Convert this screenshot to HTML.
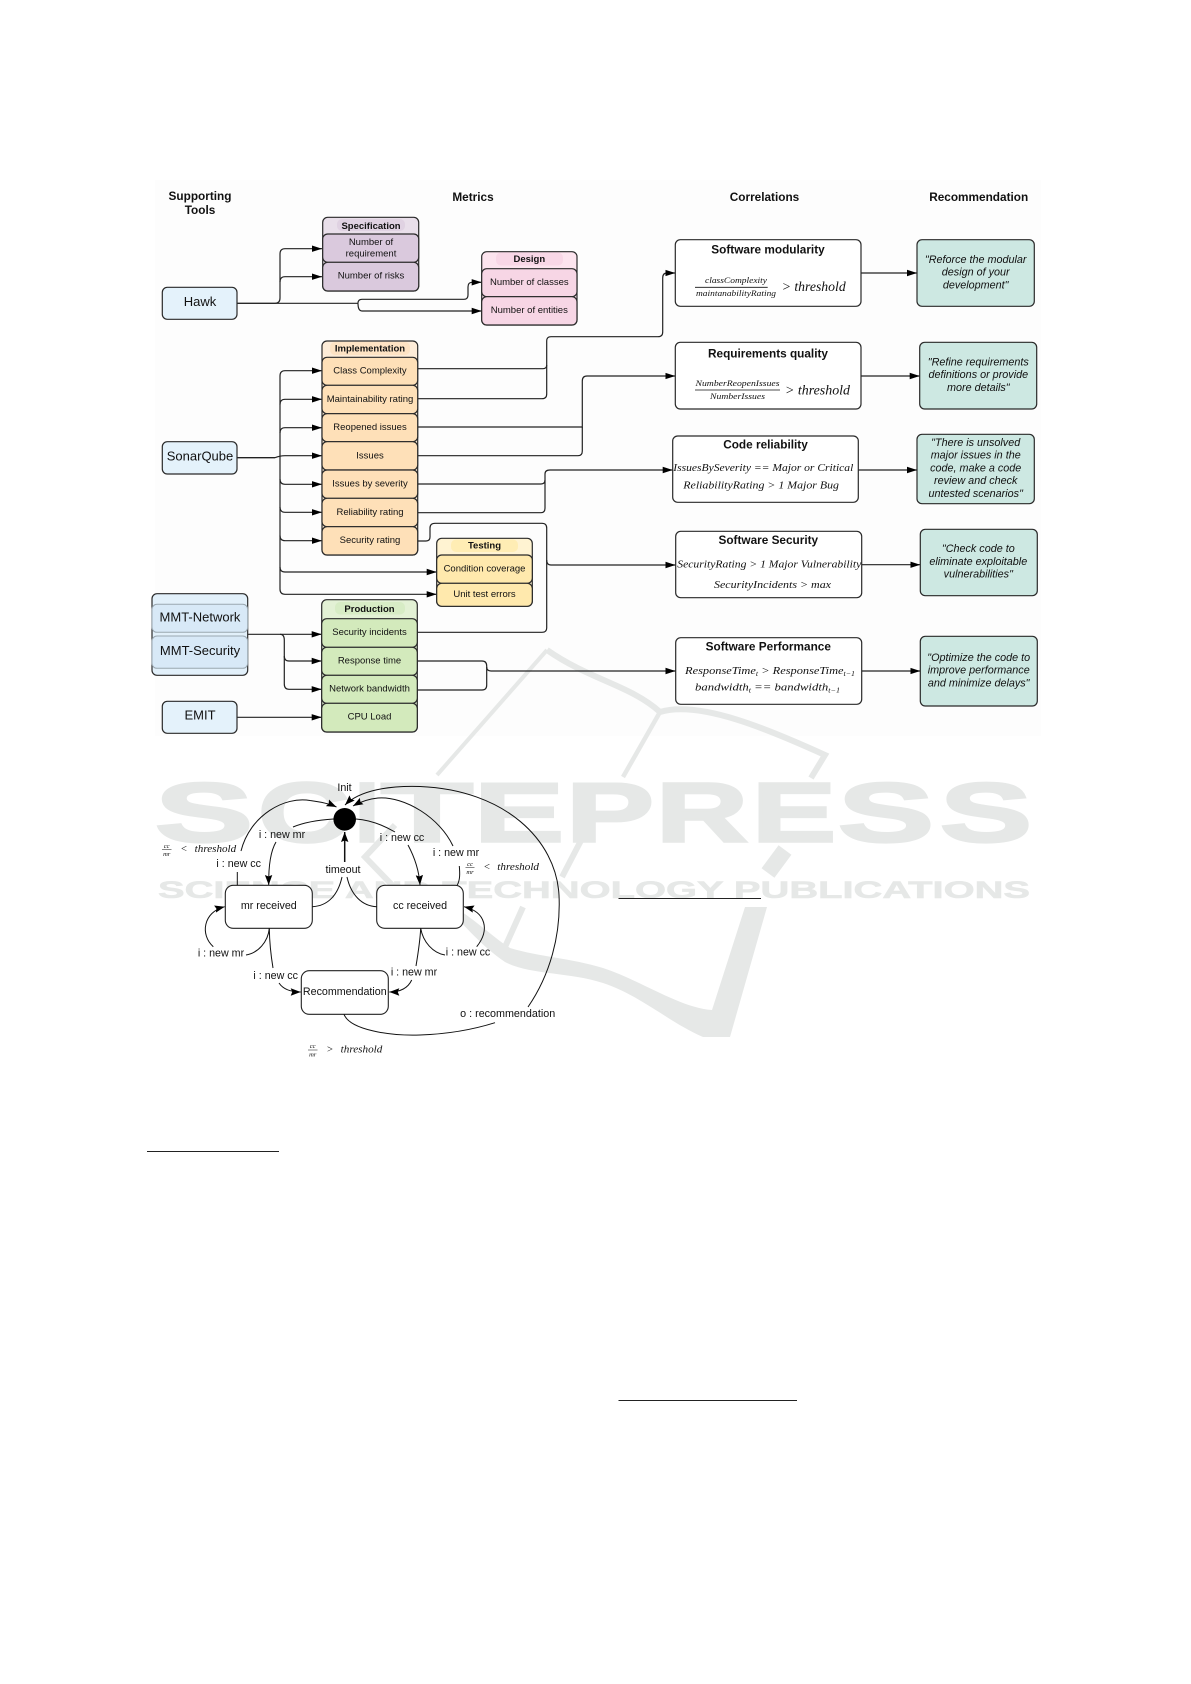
<!DOCTYPE html>
<html><head><meta charset="utf-8"><style>
html,body{margin:0;padding:0;background:#fff}
svg{display:block}
text{font-family:"Liberation Sans",sans-serif;fill:#111}
.b{font-weight:bold}
.m{text-anchor:middle}
.r{font-size:9.5px;text-anchor:middle}
.h{font-size:9.5px;font-weight:bold;text-anchor:middle}
.t{font-size:13px;text-anchor:middle}
.c{font-size:11.8px;font-weight:bold;text-anchor:middle}
.q{font-size:10.8px;font-style:italic;text-anchor:middle}
.s{font-size:10.7px;text-anchor:middle}
text.x{font-family:"Liberation Serif",serif;font-style:italic}
text.n{font-family:"Liberation Serif",serif}
.box{stroke:#2a2a2a;stroke-width:1.2}
.l{fill:none;stroke:#222;stroke-width:1.2}
.k{fill:none;stroke:#111;stroke-width:1}
text.w{fill:#e6e8e7;stroke:#e6e8e7;stroke-width:2.5;font-weight:bold}
text.w2{fill:#e6e8e7;stroke:#e6e8e7;stroke-width:.6;font-weight:bold}
.ws{fill:none;stroke:#e6e8e7}
</style></head><body>
<svg width="1191" height="1684" viewBox="0 0 1191 1684" xmlns="http://www.w3.org/2000/svg">
<defs>
<marker id="a" markerUnits="userSpaceOnUse" markerWidth="11" markerHeight="8" refX="10" refY="3.5" orient="auto"><path d="M0 .3L10 3.5L0 6.7Z" fill="#000"/></marker>
<marker id="b" markerUnits="userSpaceOnUse" markerWidth="11" markerHeight="9" refX="10" refY="4" orient="auto"><path d="M0 .3L10 4L0 7.7L1.5 4Z" fill="#000"/></marker>
</defs>
<rect x="155" y="180" width="886" height="556" fill="#fdfdfd"/>

<!-- watermark -->
<g>
<path class="ws" stroke-width="4" d="M437 775L547 650"/>
<path class="ws" stroke-width="6" d="M547 650C590 680 630 685 660 712C700 700 770 730 825 755L811 778"/>
<path class="ws" stroke-width="4.5" d="M660 712L623 777"/>
<path class="ws" stroke-width="16" d="M785 850L768 873"/>
<path class="ws" stroke-width="6" d="M588 827L562 877M523 907L505 947M395 825L365 857L395 888"/>
<path fill="#e6e8e7" d="M453 907C470 915 490 935 510 948C540 957 570 958 603 968C640 980 680 1008 712 1010L745 907L767 907L730 1037L703 1037C670 1023 640 995 603 983C570 972 530 975 505 962C480 945 465 925 450 912Z"/>
<g font-size="84">
<text class="w" x="155" y="841.5" textLength="98" lengthAdjust="spacingAndGlyphs">S</text>
<text class="w" x="258" y="841.5" textLength="92" lengthAdjust="spacingAndGlyphs">C</text>
<text class="w" x="355" y="841.5" textLength="24" lengthAdjust="spacingAndGlyphs">I</text>
<text class="w" x="381" y="841.5" textLength="92" lengthAdjust="spacingAndGlyphs">T</text>
<text class="w" x="474" y="841.5" textLength="90" lengthAdjust="spacingAndGlyphs">E</text>
<text class="w" x="566" y="841.5" textLength="88" lengthAdjust="spacingAndGlyphs">P</text>
<text class="w" x="656" y="841.5" textLength="92" lengthAdjust="spacingAndGlyphs">R</text>
<text class="w" x="752" y="841.5" textLength="84" lengthAdjust="spacingAndGlyphs">E</text>
<text class="w" x="838" y="841.5" textLength="96" lengthAdjust="spacingAndGlyphs">S</text>
<text class="w" x="940" y="841.5" textLength="92" lengthAdjust="spacingAndGlyphs">S</text>
</g>
<text class="w2" x="158" y="898" font-size="24.5" textLength="872" lengthAdjust="spacingAndGlyphs">SCIENCE AND TECHNOLOGY PUBLICATIONS</text>
</g>

<!-- headers -->
<text class="c m" x="200" y="200">Supporting</text>
<text class="c m" x="200" y="214">Tools</text>
<text class="c m" x="473" y="201">Metrics</text>
<text class="c m" x="764.5" y="201">Correlations</text>
<text class="c m" x="978.7" y="201">Recommendation</text>

<!-- connectors -->
<g class="l">
<path marker-end="url(#a)" d="M237 303.3H275Q280 303.3 280 298V254Q280 248.7 285 248.7H322"/>
<path marker-end="url(#a)" d="M280 282Q280 276.7 285 276.7H322"/>
<path d="M237 303.3H358"/>
<path marker-end="url(#a)" d="M358 303.3Q358 299.3 362 299.3H464Q468 299.3 468 295V287Q468 282.3 472 282.3H481.7"/>
<path marker-end="url(#a)" d="M358 303.3Q358 311 362 311H481.7"/>

<path stroke-width="1.4" d="M237 457.7H275"/>
<path d="M280 376Q280 370.7 285 370.7H322" marker-end="url(#a)"/>
<path d="M280 376V589Q280 594.3 285 594.3H436.7" marker-end="url(#a)"/>
<path d="M280 404.5Q280 399.3 285 399.3H322" marker-end="url(#a)"/>
<path d="M280 433Q280 427.7 285 427.7H322" marker-end="url(#a)"/>
<path d="M275 457.7Q280 455.7 285 455.7H322" marker-end="url(#a)"/>
<path d="M280 479Q280 484.3 285 484.3H322" marker-end="url(#a)"/>
<path d="M280 507Q280 512.3 285 512.3H322" marker-end="url(#a)"/>
<path d="M280 535.5Q280 540.7 285 540.7H322" marker-end="url(#a)"/>
<path d="M280 567Q280 572 285 572H436.7" marker-end="url(#a)"/>

<path d="M417.7 368.7H543Q546.7 368.7 546.7 365V341Q546.7 336.7 551 336.7H658Q662.7 336.7 662.7 332V278Q662.7 273 667 273H675.3" marker-end="url(#a)"/>
<path d="M417.7 398.7H542Q546.7 398.7 546.7 394V365"/>
<path d="M417.7 427H582.3V381Q582.3 376 587 376H675.3" marker-end="url(#a)"/>
<path d="M417.7 455.7H578Q582.3 455.7 582.3 451V427"/>
<path d="M417.7 484H541Q545 484 545 480V474Q545 470 550 470H672.7" marker-end="url(#a)"/>
<path d="M417.7 512.7H541Q545 512.7 545 508V480"/>
<path d="M417.7 541H426Q430 541 430 537V528Q430 523.3 435 523.3H542Q546.7 523.3 546.7 528V628Q546.7 632.3 542 632.3H417.3"/>
<path d="M546.7 560Q546.7 565 551 565H675.5" marker-end="url(#a)"/>

<path d="M247.7 634.3H321.7" marker-end="url(#a)"/>
<path d="M280 634.3Q284.3 634.3 284.3 640V656Q284.3 661 289 661H321.7" marker-end="url(#a)"/>
<path d="M284.3 656V684Q284.3 689.3 289 689.3H321.7" marker-end="url(#a)"/>
<path d="M237 717.3H321.7" marker-end="url(#a)"/>
<path d="M417.3 661H482Q486.7 661 486.7 666V685Q486.7 690 482 690H417.3"/>
<path d="M486.7 667Q486.7 671 491 671H675.5" marker-end="url(#a)"/>

<path d="M861 273H917" marker-end="url(#a)"/>
<path d="M861 376H919.7" marker-end="url(#a)"/>
<path d="M858.3 470H917" marker-end="url(#a)"/>
<path d="M861.7 564.7H920.3" marker-end="url(#a)"/>
<path d="M861.7 671H920.3" marker-end="url(#a)"/>
</g>

<!-- tools -->
<g class="box" fill="#e4f2fb">
<rect x="162.3" y="287.3" width="74.7" height="32" rx="5"/>
<rect x="162.3" y="441.7" width="74.7" height="32.3" rx="5"/>
<rect x="162.3" y="701.3" width="74.7" height="32" rx="5"/>
<rect x="152" y="593.7" width="95.7" height="81.6" rx="5" fill="#e2f0fa"/>
</g>
<rect x="152" y="604.3" width="95.7" height="28" rx="5" fill="#d8e9f7" stroke="#9aa7b0"/>
<rect x="152" y="636" width="95.7" height="32.3" rx="5" fill="#d8e9f7" stroke="#9aa7b0"/>
<text class="t" x="200" y="306">Hawk</text>
<text class="t" x="200" y="460.5">SonarQube</text>
<text class="t" x="200" y="719.5">EMIT</text>
<text class="t" x="200" y="621.5">MMT-Network</text>
<text class="t" x="200" y="655">MMT-Security</text>

<!-- Specification -->
<rect class="box" x="322.7" y="217.3" width="96" height="73.7" rx="5" fill="#e9dfea"/>
<rect x="337" y="219" width="68" height="12" rx="5" fill="#e0d2e2"/>
<g class="box" fill="#dac9dd"><rect x="322.7" y="234" width="96" height="28.3" rx="5"/><rect x="322.7" y="262.3" width="96" height="28.7" rx="5"/></g>
<text class="h" x="371" y="229">Specification</text>
<text class="r" x="371" y="245">Number of</text>
<text class="r" x="371" y="256.5">requirement</text>
<text class="r" x="371" y="278.5">Number of risks</text>

<!-- Design -->
<rect class="box" x="481.7" y="251.7" width="95.3" height="73.3" rx="5" fill="#fce4ee"/>
<rect x="496" y="252.5" width="67" height="13" rx="5" fill="#f8d7e6"/>
<g class="box" fill="#f7d6e5"><rect x="481.7" y="268.7" width="95.3" height="28" rx="5"/><rect x="481.7" y="296.7" width="95.3" height="28.3" rx="5"/></g>
<text class="h" x="529.3" y="262">Design</text>
<text class="r" x="529.3" y="285">Number of classes</text>
<text class="r" x="529.3" y="313">Number of entities</text>

<!-- Implementation -->
<rect class="box" x="322" y="341" width="95.7" height="214" rx="5" fill="#fdecd8"/>
<rect x="330" y="342" width="80" height="13" rx="5" fill="#fde3c4"/>
<g class="box" fill="#fee0b8">
<rect x="322" y="357.3" width="95.7" height="28" rx="5"/>
<rect x="322" y="385.3" width="95.7" height="28.4" rx="5"/>
<rect x="322" y="413.7" width="95.7" height="28" rx="5"/>
<rect x="322" y="441.7" width="95.7" height="28.3" rx="5"/>
<rect x="322" y="470" width="95.7" height="28.3" rx="5"/>
<rect x="322" y="498.3" width="95.7" height="28.4" rx="5"/>
<rect x="322" y="526.7" width="95.7" height="28.3" rx="5"/>
</g>
<text class="h" x="370" y="351.5">Implementation</text>
<text class="r" x="370" y="373.5">Class Complexity</text>
<text class="r" x="370" y="402">Maintainability rating</text>
<text class="r" x="370" y="430">Reopened issues</text>
<text class="r" x="370" y="458.5">Issues</text>
<text class="r" x="370" y="486.5">Issues by severity</text>
<text class="r" x="370" y="515">Reliability rating</text>
<text class="r" x="370" y="543">Security rating</text>

<!-- Testing -->
<rect class="box" x="436.7" y="538.3" width="95.6" height="68" rx="5" fill="#fff3d2"/>
<rect x="451" y="539.5" width="67" height="12.5" rx="5" fill="#ffedb4"/>
<g class="box" fill="#ffe9ad"><rect x="436.7" y="555" width="95.6" height="28.3" rx="5"/><rect x="436.7" y="583.3" width="95.6" height="23" rx="5"/></g>
<text class="h" x="484.5" y="548.5">Testing</text>
<text class="r" x="484.5" y="571.5">Condition coverage</text>
<text class="r" x="484.5" y="597">Unit test errors</text>

<!-- Production -->
<rect class="box" x="321.7" y="599.7" width="95.6" height="132.3" rx="5" fill="#e3f1d5"/>
<rect x="335" y="602" width="70" height="12.5" rx="5" fill="#d7ecc5"/>
<g class="box" fill="#d3eabc">
<rect x="321.7" y="618.7" width="95.6" height="28.6" rx="5"/>
<rect x="321.7" y="647.3" width="95.6" height="28" rx="5"/>
<rect x="321.7" y="675.3" width="95.6" height="28" rx="5"/>
<rect x="321.7" y="703.3" width="95.6" height="28.7" rx="5"/>
</g>
<text class="h" x="369.5" y="612">Production</text>
<text class="r" x="369.5" y="635">Security incidents</text>
<text class="r" x="369.5" y="663.5">Response time</text>
<text class="r" x="369.5" y="691.5">Network bandwidth</text>
<text class="r" x="369.5" y="719.5">CPU Load</text>

<!-- correlations -->
<g class="box" fill="#fff">
<rect x="675.3" y="239.7" width="185.7" height="66.6" rx="5"/>
<rect x="675.3" y="342.3" width="185.7" height="66.7" rx="5"/>
<rect x="672.7" y="436" width="185.6" height="66.3" rx="5"/>
<rect x="675.7" y="531.3" width="186" height="66.4" rx="5"/>
<rect x="675.7" y="637.7" width="186" height="66.6" rx="5"/>
</g>
<text class="c" x="768" y="253.5">Software modularity</text>
<text class="x m" x="736" y="283" font-size="8.5" textLength="62" lengthAdjust="spacingAndGlyphs">classComplexity</text>
<line x1="695" y1="287.3" x2="767.7" y2="287.3" stroke="#111" stroke-width=".8"/>
<text class="x m" x="736" y="296" font-size="8.5" textLength="80" lengthAdjust="spacingAndGlyphs">maintanabilityRating</text>
<text class="x" x="781.7" y="291" font-size="14" textLength="64" lengthAdjust="spacingAndGlyphs">&gt; threshold</text>

<text class="c" x="768" y="357.5">Requirements quality</text>
<text class="x m" x="737.5" y="386" font-size="8.5" textLength="84" lengthAdjust="spacingAndGlyphs">NumberReopenIssues</text>
<line x1="695" y1="390" x2="780" y2="390" stroke="#111" stroke-width=".8"/>
<text class="x m" x="737.5" y="399" font-size="8.5" textLength="55" lengthAdjust="spacingAndGlyphs">NumberIssues</text>
<text class="x" x="785" y="394.5" font-size="14" textLength="65" lengthAdjust="spacingAndGlyphs">&gt; threshold</text>

<text class="c" x="765.5" y="448.5">Code reliability</text>
<text class="x" x="673.3" y="471" font-size="11" textLength="180" lengthAdjust="spacingAndGlyphs">IssuesBySeverity == Major or Critical</text>
<text class="x" x="683.3" y="488.5" font-size="11" textLength="155.7" lengthAdjust="spacingAndGlyphs">ReliabilityRating &gt; 1 Major Bug</text>

<text class="c" x="768.3" y="544">Software Security</text>
<text class="x" x="677.3" y="567.5" font-size="11" textLength="184" lengthAdjust="spacingAndGlyphs">SecurityRating  &gt; 1 Major Vulnerability</text>
<text class="x" x="714" y="588" font-size="11" textLength="117" lengthAdjust="spacingAndGlyphs">SecurityIncidents &gt; max</text>

<text class="c" x="768.3" y="650.5">Software Performance</text>
<text class="x" x="685" y="674" font-size="11" textLength="170" lengthAdjust="spacingAndGlyphs">ResponseTime<tspan font-size="7" dy="2">t</tspan><tspan dy="-2"> &gt; ResponseTime</tspan><tspan font-size="7" dy="2">t−1</tspan></text>
<text class="x" x="695" y="690.5" font-size="11" textLength="145" lengthAdjust="spacingAndGlyphs">bandwidth<tspan font-size="7" dy="2">t</tspan><tspan dy="-2">  ==  bandwidth</tspan><tspan font-size="7" dy="2">t−1</tspan></text>

<!-- recommendations -->
<g class="box" fill="#cde8e2">
<rect x="917" y="239.7" width="117.3" height="66.6" rx="5"/>
<rect x="919.7" y="342.3" width="117" height="66.7" rx="5"/>
<rect x="917" y="434.3" width="117.3" height="69.4" rx="5"/>
<rect x="920.3" y="529.3" width="117" height="66.4" rx="5"/>
<rect x="920.3" y="636.3" width="117" height="69.7" rx="5"/>
</g>
<text class="q" x="975.7" y="263">"Reforce the modular</text>
<text class="q" x="975.7" y="275.7">design of your</text>
<text class="q" x="975.7" y="288.3">development"</text>
<text class="q" x="978.3" y="365.3">"Refine requirements</text>
<text class="q" x="978.3" y="378">definitions or provide</text>
<text class="q" x="978.3" y="391">more details"</text>
<text class="q" x="975.7" y="446">"There is unsolved</text>
<text class="q" x="975.7" y="458.7">major issues in the</text>
<text class="q" x="975.7" y="471.4">code, make a code</text>
<text class="q" x="975.7" y="484">review and check</text>
<text class="q" x="975.7" y="497">untested scenarios"</text>
<text class="q" x="978.3" y="552">"Check code to</text>
<text class="q" x="978.3" y="565">eliminate exploitable</text>
<text class="q" x="978.3" y="577.7">vulnerabilities"</text>
<text class="q" x="978.7" y="661">"Optimize the code to</text>
<text class="q" x="978.7" y="673.7">improve performance</text>
<text class="q" x="978.7" y="686.3">and minimize delays"</text>

<!-- state diagram -->
<circle cx="344.7" cy="819.3" r="11.3" fill="#000"/>
<g fill="#fff" stroke="#222" stroke-width="1.1">
<rect x="225.3" y="885.3" width="87" height="43" rx="8"/>
<rect x="376.7" y="885.3" width="86.6" height="43" rx="8"/>
<rect x="301.3" y="970.7" width="87" height="43.6" rx="8"/>
</g>
<g class="k">
<path d="M237.3 885.3V872"/>
<path marker-end="url(#b)" d="M241 851C250 815 285 796 310 800.5C322 802 330 804 336.5 807"/>
<path d="M333.5 819C318 820 305 822 293 827"/>
<path marker-end="url(#b)" d="M276 842C270 852 268.5 868 268.7 885"/>
<path marker-end="url(#b)" stroke-width="1.5" d="M344.7 862V832"/>
<path d="M342 877C338 895 328 906 312.3 906.7"/>
<path d="M347 877C351 895 362 906 376.7 906.7"/>
<path d="M356 819C370 820 383 825 395 832"/>
<path marker-end="url(#b)" d="M408 845C415 858 419 870 420 885"/>
<path d="M457.3 885C460 880 460 874 459.3 866"/>
<path marker-end="url(#b)" d="M453 846C440 818 405 796 378 798C368 799 360 802 353 806"/>
<path d="M344 1014.3C350 1030 390 1036 420 1035C450 1034 475 1029 495 1022.7"/>
<path marker-end="url(#b)" d="M528 1007C550 975 561 935 559 895C556 840 505 790 420 786.5C390 785.5 360 790 345 805"/>
<path d="M269.3 928.3C268 942 258 953 246 955"/>
<path marker-end="url(#b)" d="M213.3 946.7C200 935 203 912 224.7 906.7"/>
<path d="M420.7 928.3C423 942 433 953 445 955"/>
<path marker-end="url(#b)" d="M476.7 946.7C490 930 486 912 464 906.7"/>
<path d="M269.3 928.3C269.5 942 271 956 273 968"/>
<path marker-end="url(#b)" d="M279 983C283 989 290 992 300.7 992"/>
<path d="M420.7 928.3C420 942 418 954 416 966"/>
<path marker-end="url(#b)" d="M411.7 980C408 988 400 992 389.3 992"/>
</g>
<text class="s" x="344.5" y="791">Init</text>
<text class="s" x="282" y="838">i : new mr</text>
<text class="s" x="238.7" y="867">i : new cc</text>
<text class="s" x="343" y="873">timeout</text>
<text class="s" x="402" y="841">i : new cc</text>
<text class="s" x="456" y="856">i : new mr</text>
<text class="s" x="268.8" y="909">mr received</text>
<text class="s" x="420" y="909">cc received</text>
<text class="s" x="344.8" y="995">Recommendation</text>
<text class="s" x="221" y="956.5">i : new mr</text>
<text class="s" x="468" y="955.5">i : new cc</text>
<text class="s" x="275.7" y="979">i : new cc</text>
<text class="s" x="414" y="975.5">i : new mr</text>
<text class="s" x="507.7" y="1017" textLength="95" lengthAdjust="spacingAndGlyphs">o : recommendation</text>

<text class="x m" x="166.7" y="848" font-size="6.5">cc</text><line x1="162" y1="849.5" x2="171.5" y2="849.5" stroke="#111" stroke-width=".5"/><text class="x m" x="166.7" y="856" font-size="6.5">mr</text>
<text class="n" x="181" y="852" font-size="10.5">&lt;</text>
<text class="x" x="194.7" y="852" font-size="10.5" textLength="41.5" lengthAdjust="spacingAndGlyphs">threshold</text>
<text class="x m" x="470" y="866" font-size="6.5">cc</text><line x1="465.5" y1="867.5" x2="474.5" y2="867.5" stroke="#111" stroke-width=".5"/><text class="x m" x="470" y="874" font-size="6.5">mr</text>
<text class="n" x="484" y="870" font-size="10.5">&lt;</text>
<text class="x" x="497.3" y="870" font-size="10.5" textLength="41.7" lengthAdjust="spacingAndGlyphs">threshold</text>
<text class="x m" x="312.7" y="1048" font-size="6.5">cc</text><line x1="308" y1="1050" x2="317.5" y2="1050" stroke="#111" stroke-width=".5"/><text class="x m" x="312.7" y="1056.5" font-size="6.5">mr</text>
<text class="n" x="327" y="1052.5" font-size="10.5">&gt;</text>
<text class="x" x="340.7" y="1052.5" font-size="10.5" textLength="41.6" lengthAdjust="spacingAndGlyphs">threshold</text>

<!-- footnote rules -->
<line x1="618.5" y1="898.5" x2="761" y2="898.5" stroke="#222" stroke-width="1"/>
<line x1="147" y1="1151.5" x2="279" y2="1151.5" stroke="#222" stroke-width="1"/>
<line x1="618.5" y1="1400.5" x2="797" y2="1400.5" stroke="#222" stroke-width="1"/>
</svg>
</body></html>
